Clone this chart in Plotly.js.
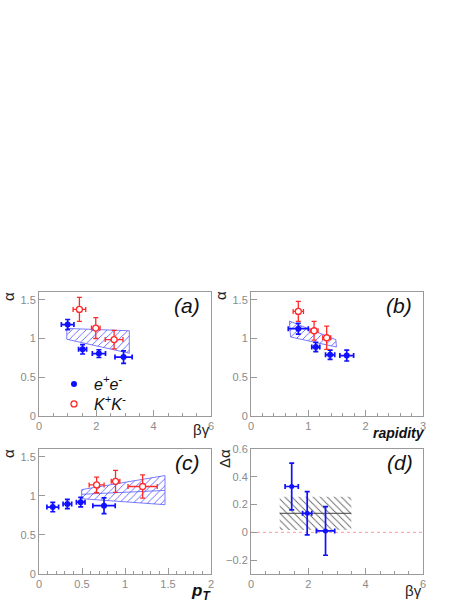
<!DOCTYPE html>
<html><head><meta charset="utf-8">
<script src="https://cdn.plot.ly/plotly-3.0.1.min.js"></script>
<style>html,body{margin:0;padding:0;background:#fff}#chart{width:469px;height:607px}</style>
</head><body><div id="chart"></div>
<script>
// ---------- data ----------
// (a) alpha vs beta*gamma
const a_ee_x  = [1.00, 1.52, 2.09, 2.95];
const a_ee_y  = [1.18, 0.86, 0.805, 0.76];
const a_ee_ex = [0.22, 0.14, 0.23, 0.30];
const a_ee_ey = [0.065, 0.06, 0.05, 0.08];
const a_kk_x  = [1.41, 1.98, 2.62];
const a_kk_y  = [1.375, 1.135, 0.986];
const a_kk_ex = [0.22, 0.15, 0.31];
const a_kk_ey = [0.155, 0.135, 0.12];
const a_band_x  = [0.97, 3.15];
const a_band_hi = [1.13, 1.10];
const a_band_lo = [0.99, 0.81];

// (b) alpha vs rapidity
const b_ee_x  = [0.825, 1.13, 1.38, 1.67];
const b_ee_y  = [1.127, 0.89, 0.79, 0.78];
const b_ee_ex = [0.175, 0.07, 0.08, 0.12];
const b_ee_ey = [0.07, 0.06, 0.06, 0.07];
const b_kk_x  = [0.825, 1.10, 1.32];
const b_kk_y  = [1.35, 1.10, 1.01];
const b_kk_ex = [0.09, 0.07, 0.07];
const b_kk_ey = [0.13, 0.12, 0.15];
const b_band_xhi = [0.67, 1.48];
const b_band_hi  = [1.225, 0.985];
const b_band_xlo = [0.69, 1.49];
const b_band_lo  = [1.02, 0.89];

// (c) alpha vs pT
const c_ee_x  = [0.16, 0.33, 0.485, 0.756];
const c_ee_y  = [0.857, 0.896, 0.92, 0.874];
const c_ee_ex = [0.068, 0.05, 0.05, 0.13];
const c_ee_ey = [0.06, 0.06, 0.06, 0.10];
const c_kk_x  = [0.67, 0.89, 1.205];
const c_kk_y  = [1.14, 1.186, 1.12];
const c_kk_ex = [0.087, 0.05, 0.17];
const c_kk_ey = [0.10, 0.14, 0.15];
const c_band_x   = [0.496, 1.465];
const c_band_hi  = [1.08, 1.26];
const c_band_lo  = [0.964, 0.887];
const c_band_mid = [1.02, 1.07];

// (d) delta alpha vs beta*gamma
const d_x  = [1.42, 1.96, 2.60];
const d_y  = [0.33, 0.137, 0.01];
const d_ex = [0.23, 0.16, 0.32];
const d_ey = [0.168, 0.156, 0.175];
const d_box_x = [1.0, 3.5];
const d_box_lo = 0.016, d_box_hi = 0.256, d_box_mid = 0.137;
const d_zero_x = [0, 6];

// ---------- styling ----------
const W = 469, H = 607;
const px = v => v / W, py = v => 1 - v / H;
const BLUE = '#1010ff', RED = '#ff2a2a';
const FONT = 'Liberation Sans, Arial, Helvetica, sans-serif';

function band(xa, ya, xb, yb, xaxis, yaxis) {
  return {
    x: [xa[0], xa[1], xb[1], xb[0], xa[0]],
    y: [ya[0], ya[1], yb[1], yb[0], ya[0]],
    xaxis, yaxis, mode: 'lines', fill: 'toself', showlegend: false,
    line: {color: '#5a5aff', width: 0.8},
    fillcolor: 'rgba(0,0,0,0)',
    fillpattern: {shape: '/', fgcolor: '#4b4bff', bgcolor: 'rgba(0,0,0,0)', size: 5, solidity: 0.16},
    hoverinfo: 'skip'
  };
}
function ee(x, y, ex, ey, xaxis, yaxis, leg) {
  return {
    x, y, xaxis, yaxis, mode: 'markers', type: 'scatter', name: 'e<sup>+</sup>e<sup>-</sup>',
    showlegend: !!leg, legend: 'legend',
    marker: {color: BLUE, size: 6, symbol: 'circle'},
    error_x: {type: 'data', array: ex, color: BLUE, thickness: 1.7, width: 2.5},
    error_y: {type: 'data', array: ey, color: BLUE, thickness: 1.7, width: 2.5}
  };
}
function kk(x, y, ex, ey, xaxis, yaxis, leg) {
  return {
    x, y, xaxis, yaxis, mode: 'markers', type: 'scatter', name: 'K<sup>+</sup>K<sup>-</sup>',
    showlegend: !!leg, legend: 'legend2',
    marker: {color: '#fff', size: 6, symbol: 'circle', line: {color: RED, width: 1.3}},
    error_x: {type: 'data', array: ex, color: RED, thickness: 1.3, width: 2.5},
    error_y: {type: 'data', array: ey, color: RED, thickness: 1.3, width: 2.5}
  };
}

const traces = [
  band(a_band_x, a_band_hi, a_band_x, a_band_lo, 'x', 'y'),
  band(b_band_xhi, b_band_hi, b_band_xlo, b_band_lo, 'x2', 'y2'),
  band(c_band_x, c_band_hi, c_band_x, c_band_lo, 'x3', 'y3'),
  {x: c_band_x, y: c_band_mid, xaxis: 'x3', yaxis: 'y3', mode: 'lines', showlegend: false,
   line: {color: '#5a5aff', width: 0.8}, hoverinfo: 'skip'},
  {x: [d_box_x[0], d_box_x[1], d_box_x[1], d_box_x[0], d_box_x[0]],
   y: [d_box_hi, d_box_hi, d_box_lo, d_box_lo, d_box_hi],
   xaxis: 'x4', yaxis: 'y4', mode: 'lines', fill: 'toself', showlegend: false,
   line: {color: 'rgba(0,0,0,0)', width: 0},
   fillcolor: 'rgba(0,0,0,0)',
   fillpattern: {shape: '\\', fgcolor: '#666', bgcolor: 'rgba(0,0,0,0)', size: 5, solidity: 0.18},
   hoverinfo: 'skip'},
  {x: d_box_x, y: [d_box_mid, d_box_mid], xaxis: 'x4', yaxis: 'y4', mode: 'lines', showlegend: false,
   line: {color: '#444', width: 1}, hoverinfo: 'skip'},
  {x: d_zero_x, y: [0, 0], xaxis: 'x4', yaxis: 'y4', mode: 'lines', showlegend: false,
   line: {color: '#ff9a9a', width: 1, dash: 'dot'}, hoverinfo: 'skip'},
  ee(a_ee_x, a_ee_y, a_ee_ex, a_ee_ey, 'x', 'y', true),
  kk(a_kk_x, a_kk_y, a_kk_ex, a_kk_ey, 'x', 'y', true),
  ee(b_ee_x, b_ee_y, b_ee_ex, b_ee_ey, 'x2', 'y2'),
  kk(b_kk_x, b_kk_y, b_kk_ex, b_kk_ey, 'x2', 'y2'),
  ee(c_ee_x, c_ee_y, c_ee_ex, c_ee_ey, 'x3', 'y3'),
  kk(c_kk_x, c_kk_y, c_kk_ex, c_kk_ey, 'x3', 'y3'),
  {x: d_x, y: d_y, xaxis: 'x4', yaxis: 'y4', mode: 'markers', showlegend: false,
   marker: {color: BLUE, size: 5},
   error_x: {type: 'data', array: d_ex, color: BLUE, thickness: 1.7, width: 2.5},
   error_y: {type: 'data', array: d_ey, color: BLUE, thickness: 1.7, width: 2.5}}
];

const baseAx = {
  showline: true, mirror: true, linecolor: '#9a9a9a', linewidth: 1,
  ticks: 'inside', ticklen: 6, tickcolor: '#9a9a9a', tickwidth: 1,
  tickfont: {family: FONT, size: 11, color: '#8a8a8a'},
  showgrid: false, zeroline: false, fixedrange: true
};
function xax(dom, range, dtick, mdtick, anchor) {
  return Object.assign({}, baseAx, {domain: dom, range, dtick, tick0: 0, anchor,
    minor: {ticks: 'inside', ticklen: 3.5, dtick: mdtick, tick0: 0, tickcolor: '#9a9a9a', showgrid: false}});
}
function yax(dom, range, dtick, anchor) {
  return Object.assign({}, baseAx, {domain: dom, range, dtick, tick0: 0, anchor});
}
const XL = [px(39), px(211)], XR = [px(251), px(423)];
const YT = [py(416), py(292)], YB = [py(574), py(449)];

function ann(text, x, y, opts) {
  return Object.assign({text, x: px(x), y: py(y), xref: 'paper', yref: 'paper',
    showarrow: false, xanchor: 'center', yanchor: 'middle',
    font: {family: FONT, size: 15, color: '#222'}}, opts || {});
}
const legStyle = {xanchor: 'left', yanchor: 'top', bgcolor: 'rgba(0,0,0,0)',
  font: {family: FONT, size: 16, color: '#111', style: 'italic'}, itemwidth: 30};

const layout = {
  width: W, height: H, margin: {l: 0, r: 0, t: 0, b: 0},
  paper_bgcolor: '#fff', plot_bgcolor: '#fff',
  xaxis: xax(XL, [0, 6], 2, 0.5, 'y'),
  yaxis: yax(YT, [0, 1.6], 0.5, 'x'),
  xaxis2: xax(XR, [0, 3], 1, 0.2, 'y2'),
  yaxis2: yax(YT, [0, 1.6], 0.5, 'x2'),
  xaxis3: xax(XL, [0, 2], 0.5, 0.1, 'y3'),
  yaxis3: yax(YB, [0, 1.6], 0.5, 'x3'),
  xaxis4: xax(XR, [0, 6], 2, 0.5, 'y4'),
  yaxis4: yax(YB, [-0.3, 0.6], 0.2, 'x4'),
  showlegend: true,
  legend: Object.assign({x: px(54), y: py(367)}, legStyle),
  legend2: Object.assign({x: px(54), y: py(387)}, legStyle),
  annotations: [
    ann('<i>(a)</i>', 202, 305, {xanchor: 'right', font: {family: FONT, size: 21, color: '#111'}}),
    ann('<i>(b)</i>', 414, 305, {xanchor: 'right', font: {family: FONT, size: 21, color: '#111'}}),
    ann('<i>(c)</i>', 202, 463, {xanchor: 'right', font: {family: FONT, size: 21, color: '#111'}}),
    ann('<i>(d)</i>', 415, 463, {xanchor: 'right', font: {family: FONT, size: 21, color: '#111'}}),
    ann('α', 8, 297, {textangle: -90}),
    ann('α', 220, 296, {textangle: -90}),
    ann('α', 8, 454, {textangle: -90}),
    ann('Δα', 225, 459, {textangle: -90}),
    ann('βγ', 212, 429, {xanchor: 'right'}),
    ann('βγ', 424, 590, {xanchor: 'right'}),
    ann('<b><i>rapidity</i></b>', 427, 433, {xanchor: 'right', font: {family: FONT, size: 14, color: '#111'}}),
    ann('<b><i>p</i></b><sub><b><i>T</i></b></sub>', 213, 592, {xanchor: 'right', font: {family: FONT, size: 17, color: '#111'}})
  ]
};

Plotly.newPlot('chart', traces, layout, {staticPlot: true, displayModeBar: false});
</script>
</body></html>
